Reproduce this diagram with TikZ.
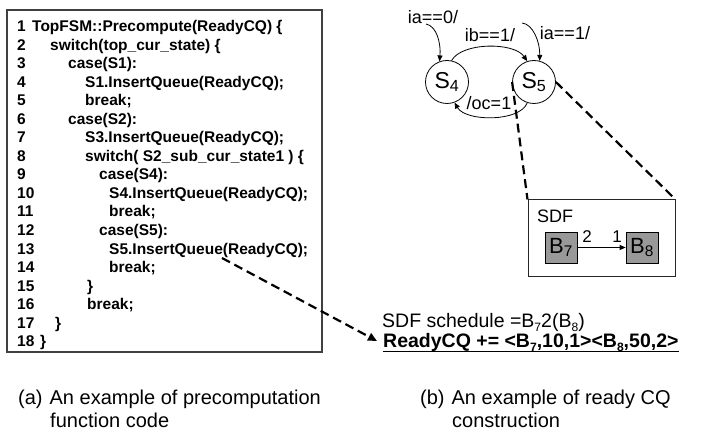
\documentclass[tikz,border=0pt]{standalone}
\usepackage{fontspec}
\usepackage{graphicx}
\setmainfont{Liberation Sans}
\usetikzlibrary{arrows.meta}

% small index set just below the baseline
\newcommand{\lowidx}[1]{\raisebox{-0.3ex}{\scalebox{0.62}{#1}}}

\begin{document}
\begin{tikzpicture}[x=1pt,y=-1pt,
  codeline/.style={anchor=base west, inner sep=0pt, font=\fontsize{15.5}{17}\selectfont\bfseries},
  codebox/.style={draw=black!75, line width=1.1pt},
  state/.style={circle, draw, minimum size=43pt, inner sep=0pt, line width=0.8pt, font=\fontsize{23}{24}\selectfont},
  trlabel/.style={inner sep=0pt, font=\fontsize{18}{19}\selectfont},
  trans/.style={-{Triangle[length=6pt,width=5pt]}, line width=0.8pt},
  block/.style={draw, fill=black!40, minimum width=32pt, minimum height=31pt, inner sep=0pt, line width=0.7pt, font=\fontsize{22}{23}\selectfont},
  zoomline/.style={dash pattern=on 9pt off 5pt, line width=2.2pt},
  plain/.style={anchor=base west, inner sep=0pt, font=\fontsize{19.5}{21}\selectfont},
  caption/.style={anchor=base west, inner sep=0pt, font=\fontsize{20}{22}\selectfont}]

\useasboundingbox (0,0) rectangle (715,435);

% ---- (a) precomputation function code ----
\node[codebox, minimum width=315pt, minimum height=342pt, inner sep=0pt] (code) at (164.5,181) {};

\node[codeline] (n1)  at (17,31.5)   {1};
\node[codeline] (n2)  at (17,50.05)  {2};
\node[codeline] (n3)  at (17,68.6)   {3};
\node[codeline] (n4)  at (17,87.15)  {4};
\node[codeline] (n5)  at (17,105.7)  {5};
\node[codeline] (n6)  at (17,124.25) {6};
\node[codeline] (n7)  at (17,142.8)  {7};
\node[codeline] (n8)  at (17,161.35) {8};
\node[codeline] (n9)  at (17,179.9)  {9};
\node[codeline] (n10) at (17,198.45) {10};
\node[codeline] (n11) at (17,217)    {11};
\node[codeline] (n12) at (17,235.55) {12};
\node[codeline] (n13) at (17,254.1)  {13};
\node[codeline] (n14) at (17,272.65) {14};
\node[codeline] (n15) at (17,291.2)  {15};
\node[codeline] (n16) at (17,309.75) {16};
\node[codeline] (n17) at (17,328.3)  {17};
\node[codeline] (n18) at (17,346.85) {18};

\node[codeline] (l1)  at (32,31.5)   {TopFSM::Precompute(ReadyCQ) \{};
\node[codeline] (l2)  at (50,50.05)  {switch(top\_cur\_state) \{};
\node[codeline] (l3)  at (68,68.6)   {case(S1):};
\node[codeline] (l4)  at (85,87.15)  {S1.InsertQueue(ReadyCQ);};
\node[codeline] (l5)  at (85,105.7)  {break;};
\node[codeline] (l6)  at (68,124.25) {case(S2):};
\node[codeline] (l7)  at (85,142.8)  {S3.InsertQueue(ReadyCQ);};
\node[codeline] (l8)  at (85,161.35) {switch( S2\_sub\_cur\_state1 ) \{};
\node[codeline] (l9)  at (99,179.9)  {case(S4):};
\node[codeline] (l10) at (109,198.45) {S4.InsertQueue(ReadyCQ);};
\node[codeline] (l11) at (109,217)    {break;};
\node[codeline] (l12) at (99,235.55) {case(S5):};
\node[codeline] (l13) at (109,254.1)  {S5.InsertQueue(ReadyCQ);};
\node[codeline] (l14) at (109,272.65) {break;};
\node[codeline] (l15) at (87,291.2)  {\}};
\node[codeline] (l16) at (87,309.75) {break;};
\node[codeline] (l17) at (55,328.3)  {\}};
\node[codeline] (l18) at (40,346.85) {\}};

% ---- (b) ready CQ construction: hierarchical FSM ----
\node[state] (s4) at (447,82) {S\textsubscript{4}};
\node[state] (s5) at (534,82) {S\textsubscript{5}};

\node[trlabel] (t0) at (433,17)  {ia==0/};
\node[trlabel] (t1) at (490,35)  {ib==1/};
\node[trlabel] (t2) at (565,33)  {ia==1/};
\node[trlabel] (t3) at (489,103) {/oc=1};

\coordinate (in0) at (426,24);
\coordinate (in1) at (522,23);

\draw[trans] (in0) .. controls (437,26) and (441,44) .. (s4.110);
\draw[trans] (s4.78) .. controls (462,42) and (514,42) .. (s5.108);
\draw[trans] (in1) .. controls (533,24) and (540,42) .. (s5.75);
\draw[trans] (s5.252) .. controls (520,122) and (466,122) .. (s4.290);

% ---- SDF refinement of S5 ----
\node[draw=black!85, line width=1pt, minimum width=147pt, minimum height=77pt, inner sep=0pt] (sdf) at (601.5,238.5) {};
\node[anchor=base west, inner sep=0pt, font=\fontsize{18}{19}\selectfont] (sdfname) at (537,223) {SDF};
\node[block] (b7) at (561,247.5) {B\textsubscript{7}};
\node[block] (b8) at (642,247.5) {B\textsubscript{8}};
\draw[trans] (b7) -- (b8);
\node[inner sep=0pt, font=\fontsize{17}{18}\selectfont] (r2) at (587,237) {2};
\node[inner sep=0pt, font=\fontsize{17}{18}\selectfont] (r1) at (617,237) {1};

\draw[zoomline] (s5.west) -- (sdf.north west);
\draw[zoomline] (s5.east) -- (sdf.north east);

% ---- schedule and ready queue ----
\node[plain] (sched) at (382,328) {SDF schedule =B\lowidx{7}2(B\lowidx{8})};
\node[plain, font=\fontsize{19.5}{21}\selectfont\bfseries] (ready) at (383,348) {ReadyCQ += <B\lowidx{7},10,1><B\lowidx{8},50,2>};
\draw[line width=1.3pt] ([yshift=-3.5pt]ready.base west) -- ([yshift=-3.5pt]ready.base east);

\coordinate (src) at (222,258);
\coordinate (dst) at (377,341);
\draw[zoomline, -{Triangle[length=9pt,width=8pt]}] (src) -- (dst);

% ---- captions ----
\node[caption] (capa1) at (18,405)  {(a)\hspace{7pt}An example of precomputation};
\node[caption] (capa2) at (50,428)  {function code};
\node[caption] (capb1) at (420,405) {(b)\hspace{7pt}An example of ready CQ};
\node[caption] (capb2) at (452,428) {construction};
\end{tikzpicture}
\end{document}
